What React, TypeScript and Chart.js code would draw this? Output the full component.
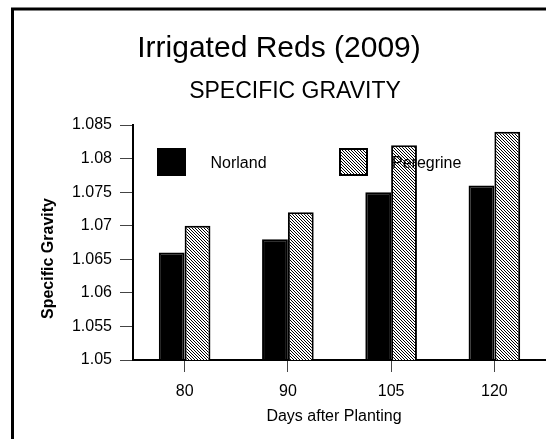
import React, { useEffect, useRef } from "react";
import { Chart, registerables } from "chart.js";

Chart.register(...registerables);

const chartTitle = "Irrigated Reds (2009)";
const chartSubtitle = "SPECIFIC GRAVITY";
const xTitle = "Days after Planting";
const yTitle = "Specific Gravity";
const categories = ["80", "90", "105", "120"];
const seriesNames = ["Norland", "Peregrine"];
const norland = [1.066, 1.068, 1.075, 1.076];
const peregrine = [1.07, 1.072, 1.082, 1.084];
const yMin = 1.05;
const yMax = 1.085;
const yStep = 0.005;

const FONT = "'Liberation Sans', Arial, Helvetica, sans-serif";

function makeHatch(): CanvasPattern | string {
  const n = 3;
  const c = document.createElement("canvas");
  c.width = n;
  c.height = n;
  const g = c.getContext("2d");
  if (!g) return "#999";
  g.fillStyle = "#ffffff";
  g.fillRect(0, 0, n, n);
  g.fillStyle = "#000000";
  for (let i = 0; i < n; i++) g.fillRect(i, i, 1, 1);
  const p = g.createPattern(c, "repeat");
  return p || "#999";
}

export default function App() {
  const ref = useRef<HTMLCanvasElement | null>(null);

  useEffect(() => {
    const canvas = ref.current;
    if (!canvas) return;
    const hatch = makeHatch();

    const decor = {
      id: "decor",
      afterDraw(chart: any) {
        const ctx = chart.ctx as CanvasRenderingContext2D;
        ctx.save();
        // frame
        ctx.strokeStyle = "#000";
        ctx.lineWidth = 3;
        ctx.strokeRect(12.5, 9, 700, 700);
        ctx.fillStyle = "#000";
        ctx.textBaseline = "alphabetic";
        ctx.textAlign = "center";
        ctx.font = `30px ${FONT}`;
        ctx.fillText(chartTitle, 279, 57);
        ctx.font = `23px ${FONT}`;
        ctx.fillText(chartSubtitle, 295, 98);
        // x title
        ctx.font = `16px ${FONT}`;
        ctx.fillText(xTitle, 334, 421);
        // y title
        ctx.save();
        ctx.translate(53, 258.5);
        ctx.rotate(-Math.PI / 2);
        ctx.font = `bold 16px ${FONT}`;
        ctx.fillText(yTitle, 0, 0);
        ctx.restore();
        // legend
        const boxes = [
          { x: 158, fill: "#000", text: 210.5 },
          { x: 340, fill: hatch, text: 392 },
        ];
        boxes.forEach((b, i) => {
          ctx.fillStyle = b.fill as any;
          ctx.fillRect(b.x, 149, 27, 26);
          ctx.strokeStyle = "#000";
          ctx.lineWidth = 2;
          ctx.strokeRect(b.x, 149, 27, 26);
          ctx.fillStyle = "#000";
          ctx.textAlign = "left";
          ctx.font = `16px ${FONT}`;
          ctx.fillText(seriesNames[i], b.text, 168);
        });
        ctx.restore();
      },
    };

    const chart = new Chart(canvas, {
      type: "bar",
      data: {
        labels: categories,
        datasets: [
          {
            label: seriesNames[0],
            data: norland,
            backgroundColor: "#000",
            borderColor: "#000",
            borderWidth: 2,
          },
          {
            label: seriesNames[1],
            data: peregrine,
            backgroundColor: hatch as any,
            borderColor: "#000",
            borderWidth: 2,
          },
        ],
      },
      options: {
        responsive: false,
        animation: false,
        devicePixelRatio: 1,
        layout: { padding: { top: 125, left: 0, right: 0, bottom: 0 } },
        datasets: { bar: { categoryPercentage: 0.5, barPercentage: 1 } },
        plugins: {
          legend: { display: false },
          title: { display: false },
          tooltip: { enabled: false },
        },
        scales: {
          x: {
            grid: {
              offset: false,
              drawOnChartArea: false,
              drawTicks: true,
              tickLength: 12,
              color: "#444",
            },
            border: { display: true, color: "#000", width: 2 },
            ticks: {
              color: "#000",
              padding: 10,
              font: { family: FONT, size: 16 },
            },
            afterFit: (s: any) => {
              s.height = 79;
            },
          },
          y: {
            min: yMin,
            max: yMax,
            grid: {
              drawOnChartArea: false,
              drawTicks: true,
              tickLength: 13,
              color: "#444",
            },
            border: { display: true, color: "#000", width: 2 },
            ticks: {
              stepSize: yStep,
              color: "#000",
              padding: 8,
              font: { family: FONT, size: 16 },
              callback: (v: any) => String(Number(Number(v).toFixed(3))),
            },
            afterFit: (s: any) => {
              s.width = 133;
            },
          },
        },
      },
      plugins: [decor],
    });
    return () => chart.destroy();
  }, []);

  return (
    <canvas
      ref={ref}
      width={546}
      height={439}
      style={{ position: "fixed", left: 0, top: 0, width: 546, height: 439 }}
    />
  );
}
